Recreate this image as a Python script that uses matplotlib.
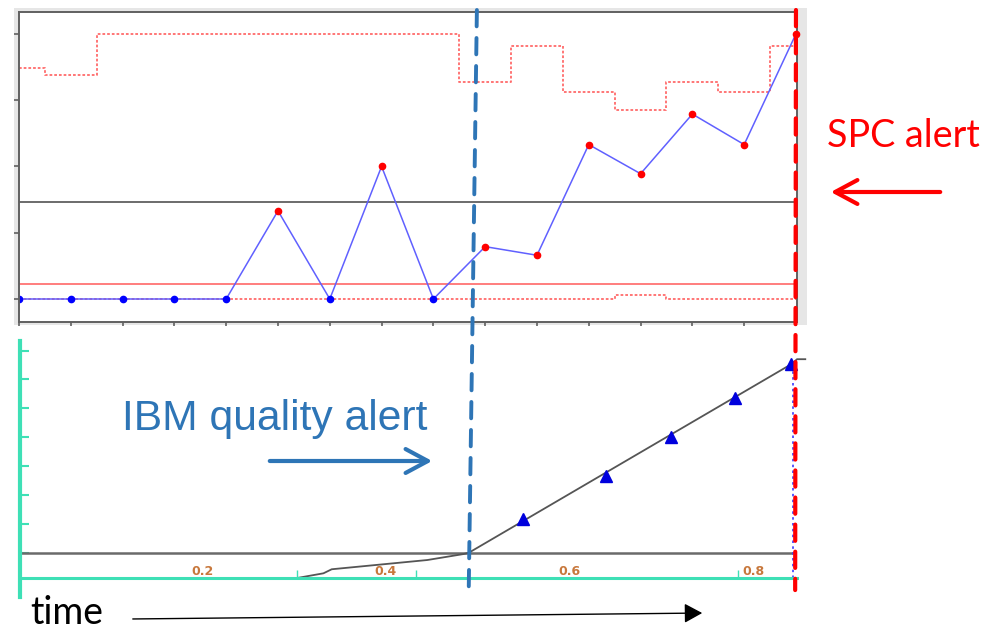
import numpy as np
import matplotlib.pyplot as plt
from matplotlib.patches import ConnectionPatch, FancyArrowPatch

W, H = 996, 633

# top: SPC chart, one value per sample
spc_values = [0, 0, 0, 0, 0, 1.33, 0, 2.0, 0, 0.79, 0.66, 2.33, 1.89, 2.79, 2.33, 4.0]
spc_ucl = [3.49, 3.38, 4.0, 4.0, 4.0, 4.0, 4.0, 4.0, 4.0, 3.28, 3.81, 3.12, 2.85, 3.28, 3.12, 3.81]
spc_lcl = [0, 0, 0, 0, 0, 0, 0, 0, 0, 0, 0, 0, 0.06, 0, 0, 0]
spc_center = 1.46
spc_limit = 0.227

# bottom: IBM quality curve
quality_x = [0.002, 0.303, 0.332, 0.341, 0.445, 0.484, 0.490, 0.842, 0.847, 0.856]
quality_y = [-0.875, -0.875, -0.71, -0.57, -0.25, -0.045, 0.0, 6.55, 6.70, 6.70]
alarm_x = [0.549, 0.639, 0.710, 0.780, 0.840]
alarm_y = [1.17, 2.66, 4.01, 5.34, 6.52]
quality_ticks = [0.2, 0.4, 0.6, 0.8]
quality_tick_labels = ['0.2', '0.4', '0.6', '0.8']
quality_minor = [0.303, 0.433, 0.783]

# where the two alerts fire
ibm_alert_top = 8.84
spc_alert_top = 15
spc_alert_bottom = 0.845

teal = '#3ee0b6'
ibm_blue = '#2e75b6'


def box(x0, y0, x1, y1):
    # pixel box -> figure fraction [left, bottom, width, height]
    return [x0 / W, 1 - y1 / H, (x1 - x0) / W, (y1 - y0) / H]


def fig_pt(x, y):
    return (x / W, 1 - y / H)


fig = plt.figure(figsize=(W / 100, H / 100), dpi=100)

# grey frame behind the SPC chart
bg = fig.add_axes(box(14, 8, 807, 325))
bg.set_facecolor('#e6e6e6')
bg.set_xticks([])
bg.set_yticks([])
for s in bg.spines.values():
    s.set_visible(False)

ax = fig.add_axes(box(19, 12, 797, 322))
ax.set_facecolor('white')
idx = np.arange(len(spc_values))
vals = np.array(spc_values)
dots = (0, (1.5, 1.1))
ax.plot(idx, spc_ucl, drawstyle='steps-mid', color='#ff6b6b', lw=1.3, ls=dots)
ax.plot(idx, spc_lcl, drawstyle='steps-mid', color='#ff6b6b', lw=1.3, ls=dots)
ax.axhline(spc_center, color='#444444', lw=1.1)
ax.axhline(spc_limit, color='#ff5a5a', lw=1.1)
ax.plot(idx, vals, color='#6060ff', lw=1.1)
alarm = vals > spc_limit
ax.plot(idx[~alarm], vals[~alarm], 'o', color='#0000ff', ms=4.5, ls='none')
ax.plot(idx[alarm], vals[alarm], 'o', color='#ff0000', ms=4.5, ls='none', clip_on=False, zorder=4)
ax.set_xlim(0, 15.02)
ax.set_ylim(-0.347, 4.33)
ax.set_xticks(idx)
ax.set_yticks(range(5))
ax.set_xticklabels([])
ax.set_yticklabels([])
ax.tick_params(axis='x', direction='out', length=3, width=1.1, color='#555555')
ax.tick_params(axis='y', direction='out', length=3.6, width=1.1, color='#555555')
for s in ax.spines.values():
    s.set_color('#606060')
    s.set_linewidth(1.4)

# quality chart
ax2 = fig.add_axes(box(20, 341, 797, 597))
ax2.patch.set_alpha(0)
ax2.set_xlim(0.002, 0.847)
ax2.set_ylim(-1.53, 7.33)
ax2.hlines(0, 0.002, alarm_x[-1] + 0.003, color='#6a6a6a', lw=1.8)
ax2.vlines(alarm_x[-1] + 0.003, quality_y[0], quality_y[7], color='#3a3aff', lw=1.2, ls=(0, (1.5, 2)))
ax2.plot(quality_x, quality_y, color='#555555', lw=1.3, clip_on=False)
ax2.plot(alarm_x, alarm_y, '^', color='#0000dd', ms=8, ls='none', clip_on=False)
for s in ['top', 'right']:
    ax2.spines[s].set_visible(False)
ax2.spines['left'].set_color(teal)
ax2.spines['left'].set_linewidth(3)
ax2.spines['bottom'].set_color(teal)
ax2.spines['bottom'].set_linewidth(2.2)
ax2.spines['bottom'].set_position(('data', quality_y[0] - 0.011))
ax2.set_xticks(quality_ticks)
ax2.set_xticklabels(quality_tick_labels)
ax2.set_xticks(quality_minor, minor=True)
ax2.set_yticks(range(8))
ax2.set_yticklabels([])
ax2.tick_params(axis='x', which='major', length=0, pad=-10, labelsize=9,
                labelcolor='#c8783c')
for lab in ax2.get_xticklabels():
    lab.set_fontweight('bold')
ax2.tick_params(axis='x', which='minor', direction='in', length=5.5, width=1, color=teal)
ax2.tick_params(axis='y', direction='in', length=6.5, width=1.5, color=teal)

# alert lines across both charts
ibm = ConnectionPatch(xyA=(ibm_alert_top, 4.36), coordsA=ax.transData,
                      xyB=(quality_x[6], -1.29), coordsB=ax2.transData,
                      color=ibm_blue, lw=2.8, ls=(0, (4.2, 3.0)), zorder=6)
fig.add_artist(ibm)
spc = ConnectionPatch(xyA=(spc_alert_top, 4.36), coordsA=ax.transData,
                      xyB=(spc_alert_bottom, -1.29), coordsB=ax2.transData,
                      color='#ff0000', lw=3.0, ls=(0, (3.9, 2.6)), zorder=6)
fig.add_artist(spc)

# labels and arrows
fig.text(*fig_pt(827, 147), 'SPC alert', color='#ff0000', fontsize=27.2,
         family='Lato', va='baseline')
fig.add_artist(FancyArrowPatch(fig_pt(943, 192), fig_pt(828, 192), transform=fig.transFigure,
                               arrowstyle='->,head_length=0.8,head_width=0.43',
                               mutation_scale=20, lw=3, color='#ff0000'))

fig.text(*fig_pt(122, 430), 'IBM quality alert', color=ibm_blue, fontsize=30.7,
         family='Liberation Sans', va='baseline')
fig.add_artist(FancyArrowPatch(fig_pt(267, 461), fig_pt(435, 461), transform=fig.transFigure,
                               arrowstyle='->,head_length=0.8,head_width=0.43',
                               mutation_scale=20, lw=3, color=ibm_blue))

fig.text(*fig_pt(30, 624), 'time', color='black', fontsize=27, family='Lato', va='baseline')
fig.add_artist(FancyArrowPatch(fig_pt(130, 619), fig_pt(705, 613), transform=fig.transFigure,
                               arrowstyle='-|>,head_length=0.55,head_width=0.3',
                               mutation_scale=20, lw=1, color='black'))

fig.savefig('out.png', dpi=100)
